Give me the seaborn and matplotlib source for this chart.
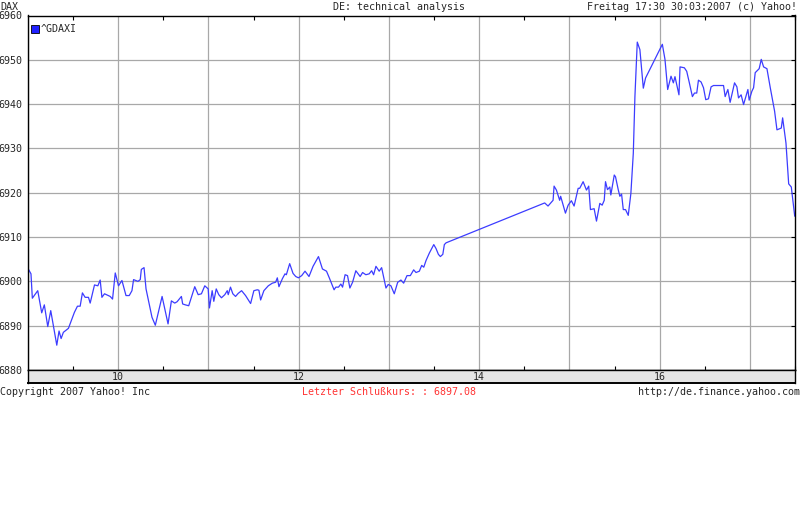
import matplotlib
matplotlib.use("Agg")
import matplotlib.pyplot as plt
from matplotlib.lines import Line2D
import pandas as pd
import seaborn as sns

# DAX intraday, 30.03.2007 (hour of day, index level)
hours = [
    9.003, 9.033, 9.048, 9.108, 9.152, 9.181, 9.219, 9.252, 9.319, 9.344,
    9.367, 9.392, 9.448, 9.514, 9.548, 9.578, 9.603, 9.633, 9.670, 9.689,
    9.737, 9.774, 9.800, 9.819, 9.848, 9.911, 9.937, 9.967, 10.003, 10.041,
    10.086, 10.122, 10.152, 10.170, 10.219, 10.244, 10.256, 10.286, 10.308, 10.374,
    10.411, 10.486, 10.552, 10.589, 10.626, 10.652, 10.700, 10.714, 10.744, 10.781,
    10.848, 10.886, 10.922, 10.959, 10.997, 11.011, 11.041, 11.059, 11.086, 11.114,
    11.144, 11.181, 11.208, 11.219, 11.244, 11.270, 11.300, 11.330, 11.367, 11.411,
    11.467, 11.503, 11.541, 11.559, 11.578, 11.614, 11.663, 11.708, 11.744, 11.763,
    11.781, 11.819, 11.848, 11.863, 11.900, 11.937, 11.967, 11.997, 12.033, 12.070,
    12.114, 12.159, 12.219, 12.263, 12.308, 12.337, 12.392, 12.411, 12.441, 12.467,
    12.486, 12.514, 12.541, 12.567, 12.597, 12.633, 12.681, 12.708, 12.744, 12.781,
    12.808, 12.830, 12.856, 12.892, 12.919, 12.967, 12.992, 13.022, 13.059, 13.097,
    13.133, 13.163, 13.200, 13.237, 13.274, 13.300, 13.337, 13.363, 13.386, 13.411,
    13.448, 13.497, 13.522, 13.548, 13.570, 13.597, 13.614, 13.633,
    14.726, 14.763, 14.819, 14.830, 14.856, 14.892, 14.903, 14.956, 14.986, 15.022,
    15.052, 15.097, 15.114, 15.152, 15.189, 15.214, 15.233, 15.274, 15.300, 15.337,
    15.363, 15.386, 15.400, 15.422, 15.448, 15.459, 15.497, 15.511, 15.541, 15.559,
    15.578, 15.597, 15.622, 15.652, 15.681, 15.708, 15.726, 15.752, 15.781, 15.819,
    15.844, 16.030, 16.059, 16.089, 16.126, 16.152, 16.170, 16.214, 16.226, 16.274,
    16.300, 16.326, 16.363, 16.386, 16.411, 16.430, 16.459, 16.486, 16.511, 16.541,
    16.570, 16.597, 16.708, 16.726, 16.756, 16.781, 16.830, 16.856, 16.874, 16.903,
    16.930, 16.978, 16.992, 17.022, 17.041, 17.059, 17.103, 17.126, 17.152, 17.189,
    17.226, 17.274, 17.300, 17.348, 17.363, 17.400, 17.430, 17.459, 17.497,
]
dax = [
    6902.8, 6901.7, 6896.2, 6897.9, 6892.9, 6894.7, 6889.8, 6893.4, 6885.6, 6888.8,
    6887.1, 6888.5, 6889.4, 6893.0, 6894.4, 6894.4, 6897.4, 6896.4, 6896.4, 6895.1,
    6899.2, 6899.0, 6900.3, 6896.4, 6897.2, 6896.6, 6896.0, 6901.9, 6899.0, 6900.2,
    6896.8, 6896.8, 6897.9, 6900.4, 6900.0, 6900.4, 6902.7, 6903.1, 6898.3, 6891.9,
    6890.1, 6896.6, 6890.4, 6895.6, 6895.1, 6895.4, 6896.6, 6894.9, 6894.7, 6894.5,
    6898.8, 6897.0, 6897.2, 6899.0, 6898.3, 6894.0, 6897.9, 6895.5, 6898.3, 6897.0,
    6896.3, 6897.0, 6897.9, 6897.0, 6898.7, 6897.2, 6896.6, 6897.3, 6897.9, 6896.8,
    6895.0, 6897.9, 6898.1, 6898.0, 6895.8, 6897.9, 6899.0, 6899.6, 6899.8, 6900.8,
    6898.8, 6900.6, 6901.7, 6901.5, 6904.0, 6901.8, 6901.1, 6900.8, 6901.3, 6902.3,
    6901.1, 6903.4, 6905.6, 6902.8, 6902.3, 6900.9, 6898.1, 6898.7, 6898.7, 6899.4,
    6898.7, 6901.5, 6901.3, 6898.5, 6899.8, 6902.4, 6901.1, 6902.0, 6901.5, 6901.7,
    6902.4, 6901.5, 6903.4, 6902.3, 6903.1, 6898.5, 6899.3, 6899.0, 6897.2, 6899.8,
    6900.3, 6899.6, 6901.3, 6901.3, 6902.6, 6902.0, 6902.3, 6903.6, 6903.2, 6904.7,
    6906.4, 6908.3, 6907.4, 6906.1, 6905.6, 6906.1, 6908.3, 6908.7,
    6917.7, 6917.0, 6918.3, 6921.5, 6920.6, 6918.3, 6919.2, 6915.4, 6917.2, 6918.2,
    6917.0, 6921.0, 6921.0, 6922.5, 6920.6, 6921.5, 6916.2, 6916.4, 6913.6, 6917.6,
    6917.2, 6918.3, 6922.5, 6920.7, 6921.3, 6919.5, 6924.0, 6923.6, 6920.7, 6919.2,
    6919.7, 6916.2, 6916.2, 6914.9, 6919.8, 6928.9, 6941.7, 6954.0, 6952.3, 6943.6,
    6945.9, 6953.5, 6950.1, 6943.3, 6946.3, 6944.8, 6946.2, 6942.1, 6948.4, 6948.2,
    6947.4, 6945.1, 6941.7, 6942.5, 6942.5, 6945.4, 6945.0, 6943.7, 6941.0, 6941.2,
    6943.9, 6944.2, 6944.2, 6941.7, 6943.3, 6940.4, 6944.8, 6943.9, 6941.4, 6942.1,
    6939.9, 6943.3, 6940.9, 6942.9, 6943.7, 6947.1, 6948.0, 6950.1, 6948.4, 6948.0,
    6943.7, 6938.4, 6934.2, 6934.6, 6936.9, 6931.2, 6922.0, 6921.3, 6914.7,
]

hour_grid = [9, 10, 11, 12, 13, 14, 15, 16, 17]
half_hours = [9.5, 10.5, 11.5, 12.5, 13.5, 14.5, 15.5, 16.5, 17.5]
hour_labels = [10, 12, 14, 16]
level_ticks = [6880, 6890, 6900, 6910, 6920, 6930, 6940, 6950, 6960]

sns.set_style("white")
plt.rcParams["font.family"] = ["DejaVu Sans Mono"]
plt.rcParams["font.size"] = 7.2

W, H = 800, 518
fig = plt.figure(figsize=(W / 100, H / 100), dpi=100)
ax = fig.add_axes([28 / W, 1 - 370 / H, 767 / W, 354.5 / H])

df = pd.DataFrame({"hour": hours, "dax": dax})
sns.lineplot(data=df, x="hour", y="dax", ax=ax, color="#3c3cff",
             linewidth=0.9, sort=False, estimator=None)

ax.set_xlim(9, 17.5)
ax.set_ylim(6880, 6960)
ax.set_xticks(hour_grid)
ax.set_xticks(half_hours, minor=True)
ax.set_yticks(level_ticks)
ax.set_yticklabels([str(v) for v in level_ticks])
ax.set_xlabel("")
ax.set_ylabel("")
ax.grid(True, which="major", color="#a8a8a8", linewidth=0.9)
ax.tick_params(axis="x", which="major", length=0, labelbottom=False)
ax.tick_params(axis="x", which="minor", direction="in", top=True, bottom=True,
               length=3, width=0.8, color="black")
ax.tick_params(axis="y", which="major", direction="in", left=False, right=True,
               length=3, width=0.8, color="black", labelleft=True, pad=4,
               labelsize=7.2)
for s in ax.spines.values():
    s.set_color("black")
    s.set_linewidth(1.0)

handle = Line2D([], [], marker="s", linestyle="none", markersize=5.5,
                markerfacecolor="#2020ff", markeredgecolor="black",
                markeredgewidth=0.6, label="^GDAXI")
ax.legend(handles=[handle], loc="upper left", bbox_to_anchor=(0.0, 0.985),
          frameon=False, borderaxespad=0.15, borderpad=0.2, handlelength=0.6,
          handletextpad=0.3, fontsize=7.2)

# time band below the chart
band = fig.add_axes([28 / W, 1 - 383 / H, 767 / W, 13 / H])
band.set_facecolor("#e4e4e4")
band.set_xlim(9, 17.5)
band.set_ylim(0, 1)
band.set_xticks([])
band.set_yticks([])
for s in band.spines.values():
    s.set_color("black")
    s.set_linewidth(1.0)
band.spines["bottom"].set_linewidth(1.4)
for h in hour_labels:
    band.text(h, 0.45, str(h), ha="center", va="center", fontsize=7.2)

fig.text(0, 1 - 7 / H, "DAX", ha="left", va="center", fontsize=7.2)
fig.text(399 / W, 1 - 7 / H, "DE: technical analysis", ha="center",
         va="center", fontsize=7.2)
fig.text(797 / W, 1 - 7 / H, "Freitag 17:30 30:03:2007 (c) Yahoo!",
         ha="right", va="center", fontsize=7.2)
fig.text(0, 1 - 392 / H, "Copyright 2007 Yahoo! Inc", ha="left",
         va="center", fontsize=7.2)
fig.text(389 / W, 1 - 392 / H, "Letzter Schlußkurs: : 6897.08", ha="center",
         va="center", fontsize=7.2, color="#ff3333")
fig.text(1.0, 1 - 392 / H, "http://de.finance.yahoo.com", ha="right",
         va="center", fontsize=7.2)

fig.savefig("out.png", dpi=100, facecolor="white")
